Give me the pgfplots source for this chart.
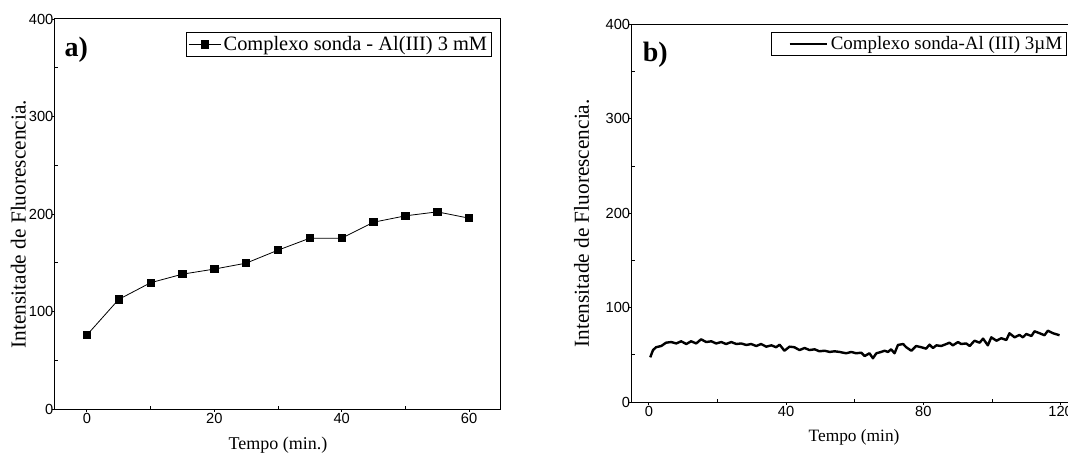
\documentclass[border=0pt]{standalone}
\usepackage{pgfplots}
\pgfplotsset{compat=1.18}
\usepackage{fontspec}
\setmainfont{Liberation Serif}
\newfontfamily\arial{Liberation Sans}
\begin{document}
\begin{tikzpicture}
\useasboundingbox (0,0) rectangle (801pt,340.5pt);
\clip (0,0) rectangle (801pt,340.5pt);
\pgfplotsset{
  myax/.style={
    scale only axis,
    width=334.5pt,
    axis line style={line width=0.75pt},
    every tick/.style={black, line width=0.6pt},
    tick align=inside,
    major tick length=-2.5pt,
    minor tick length=2.5pt,
    xtick pos=left, ytick pos=left,
    ymin=0, ymax=400,
    ytick={0,100,200,300,400},
    minor ytick={50,150,250,350},
    tick label style={font=\arial\fontsize{11}{12}\selectfont},
    /pgf/number format/assume math mode=true,
    xticklabel style={inner sep=3pt},
    yticklabel style={inner sep=1pt},
    legend cell align=left,
  }
}
% ---------- panel a ----------
\begin{axis}[myax,
  at={(41.25pt,33.75pt)}, anchor=south west,
  height=292.5pt,
  xmin=-5, xmax=65,
  xtick={0,20,40,60}, minor xtick={10,30,50},
  xlabel={Tempo (min.)},
  ylabel={Intensitade de Fluorescencia.},
  xlabel style={at={(axis description cs:0.5,-0.092)}, anchor=center, font=\fontsize{13.5}{16}\selectfont},
  ylabel style={at={(axis description cs:-0.082,0.474)}, anchor=center, font=\fontsize{16}{19}\selectfont},
  legend style={at={(0.979,0.967)}, anchor=north east, draw=black, line width=0.75pt,
     font=\fontsize{15.3}{17}\selectfont, inner xsep=1pt, inner ysep=1pt},
  legend image code/.code={\draw[mark repeat=2,mark phase=2] plot coordinates {(0pt,0pt) (12pt,0pt) (24pt,0pt)};},
]
\addplot[black, line width=0.6pt, mark=square*, mark size=2.75pt, mark options={solid}] coordinates {
(0,75.8) (5,112.4) (10,129.5) (15,138.3) (20,143.5) (25,149.6) (30,162.9)
(35,175.2) (40,175.2) (45,191.6) (50,198.1) (55,202.2) (60,195.7)
};
\addlegendentry{Complexo sonda - Al(III) 3 mM}
\node[font=\bfseries\fontsize{21}{24}\selectfont] at (rel axis cs:0.048,0.922) {a)};
\end{axis}
% ---------- panel b ----------
\begin{axis}[myax,
  at={(473.8pt,39pt)}, anchor=south west,
  height=283.3pt,
  xmin=-5, xmax=125,
  xtick={0,40,80,120}, minor xtick={20,60,100},
  xlabel={Tempo (min)},
  ylabel={Intensitade de Fluorescencia.},
  xlabel style={at={(axis description cs:0.4985,-0.094)}, anchor=center, font=\fontsize{13}{16}\selectfont},
  ylabel style={at={(axis description cs:-0.1126,0.473)}, anchor=center, font=\fontsize{16}{19}\selectfont},
  legend style={at={(0.975,0.979)}, anchor=north east, draw=black, line width=0.75pt,
     font=\fontsize{14.2}{16}\selectfont, inner xsep=1pt, inner ysep=1pt},
  legend image code/.code={\path (-12pt,0pt); \draw (0pt,0pt) -- (28pt,0pt);},
]
\addplot[black, line width=1.8pt, line join=round] coordinates {
(0.4,47.3)(1.2,55)(2.1,58)(3.6,59.3)(5,62.8)(6.5,63.5)(8,62)(9.4,64.3)(10.9,61.4)(12.3,64.3)
(13.8,62)(15.2,66.4)(16.7,63.5)(18.2,64.3)(19.6,62)(21.1,63.5)(22.5,61.4)(24,63.5)(25.5,61.4)
(26.9,62)(28.4,60.4)(29.8,61.4)(31.3,59.3)(32.7,61.4)(34.2,58.6)(35.7,60)(37.1,58)(38.1,60.7)
(39.5,54.3)(41,58.6)(42.4,58)(43.9,55)(45.4,57.2)(46.8,55)(48.3,55.8)(49.7,53.7)(51.2,54.3)
(52.7,53)(54.1,53.7)(55.6,53)(57.5,51.6)(59,53)(60.4,51.6)(61.9,52.2)(62.9,48.7)(64.3,51.6)
(65.3,46.3)(66.3,51.6)(67.7,53)(68.7,54.3)(69.7,53)(70.6,55.8)(71.6,51.6)(72.6,60.4)(74.1,61.4)
(75,58)(76.5,54.3)(77.9,59.3)(79.4,58)(80.8,56.5)(81.8,60.7)(82.8,57.2)(83.8,60)(85.2,59.3)
(86.7,61.4)(87.6,62.8)(88.6,60)(90.1,63.5)(91,61.4)(92.5,62)(93.5,59.3)(94.9,64.9)(96.4,62.8)
(97.4,67.1)(98.8,60)(99.8,68.5)(101.3,64.9)(102.7,67.5)(104.2,65.7)(105.1,72.8)(106.6,68.5)
(108,71)(109,68.5)(110,72)(111.5,69.9)(112.4,74.9)(113.9,72.8)(115.3,70.7)(116.3,75.5)
(117.8,72.8)(119.7,70.7)
};
\addlegendentry{Complexo sonda-Al (III) 3µM}
\node[font=\bfseries\fontsize{21}{24}\selectfont] at (rel axis cs:0.053,0.918) {b)};
\end{axis}
\end{tikzpicture}
\end{document}
